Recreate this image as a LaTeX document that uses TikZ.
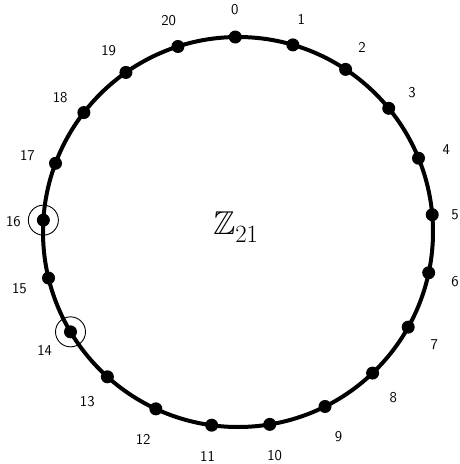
\documentclass[tikz,border=0pt]{standalone}
\usepackage{amssymb}
\begin{document}
\begin{tikzpicture}[x=1pt,y=-1pt,
  dot/.style={circle,fill=black,inner sep=0pt,minimum size=13pt},
  ring/.style={circle,draw=black,line width=0.9pt,inner sep=0pt,minimum size=30pt},
  lbl/.style={font=\sffamily\fontsize{15}{17}\selectfont,inner sep=0pt}]
\useasboundingbox (0,0) rectangle (460,464);
\node[inner sep=0pt,minimum size=0pt] (c) at (238,232) {};
\draw[line width=4pt] (238,232) circle[radius=195];
\foreach \k in {0,...,20}{
  \pgfmathsetmacro{\ang}{90.8-360*\k/21}
  \pgfmathsetmacro{\px}{238+195*cos(\ang)}
  \pgfmathsetmacro{\py}{232-195*sin(\ang)}
  \pgfmathsetmacro{\lx}{min(238+225*cos(\ang),455)}
  \pgfmathsetmacro{\ly}{min(235-225*sin(\ang),456)}
  \node[dot] (p\k) at (\px,\py) {};
  \node[lbl] (l\k) at (\lx,\ly) {\k};
}
\node[ring] (r14) at (p14) {};
\node[ring] (r16) at (p16) {};
\node[font=\fontsize{33}{36}\selectfont,inner sep=0pt] (z) at (236,227) {$\mathbb{Z}_{21}$};
\end{tikzpicture}
\end{document}
